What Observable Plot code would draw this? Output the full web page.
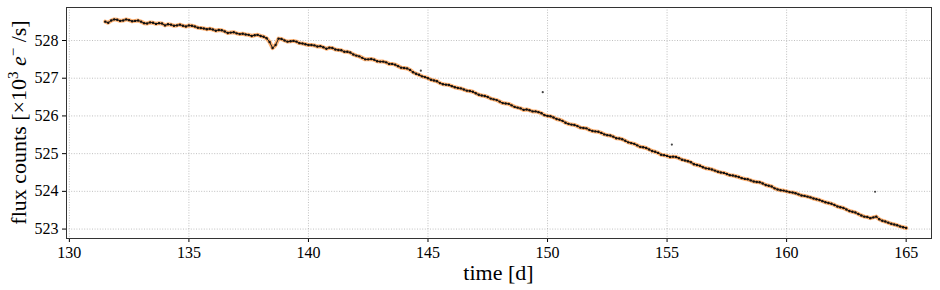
<!DOCTYPE html>
<html><head><meta charset="utf-8">
<script src="https://cdn.jsdelivr.net/npm/d3@7"></script>
<script src="https://cdn.jsdelivr.net/npm/@observablehq/plot@0.6"></script>
<style>body{margin:0;background:#fff;} #chart svg{display:block;}</style>
</head><body><div id="chart"></div>
<script>
const time = [131.5,131.75,132,132.25,132.5,132.75,133,133.25,133.5,133.75,134,134.25,134.5,134.75,135,135.25,135.5,135.75,136,136.25,136.5,136.75,137,137.25,137.5,137.75,138,138.25,138.5,138.75,139,139.25,139.5,139.75,140,140.25,140.5,140.75,141,141.25,141.5,141.75,142,142.25,142.5,142.75,143,143.25,143.5,143.75,144,144.25,144.5,144.75,145,145.25,145.5,145.75,146,146.25,146.5,146.75,147,147.25,147.5,147.75,148,148.25,148.5,148.75,149,149.25,149.5,149.75,150,150.25,150.5,150.75,151,151.25,151.5,151.75,152,152.25,152.5,152.75,153,153.25,153.5,153.75,154,154.25,154.5,154.75,155,155.25,155.5,155.75,156,156.25,156.5,156.75,157,157.25,157.5,157.75,158,158.25,158.5,158.75,159,159.25,159.5,159.75,160,160.25,160.5,160.75,161,161.25,161.5,161.75,162,162.25,162.5,162.75,163,163.25,163.5,163.75,164,164.25,164.5,164.75,165];
const flux = [528.50,528.53,528.55,528.53,528.54,528.52,528.50,528.45,528.47,528.46,528.40,528.42,528.40,528.39,528.40,528.37,528.33,528.30,528.29,528.28,528.24,528.21,528.19,528.18,528.15,528.14,528.12,528.06,527.80,528.05,528.00,527.98,527.97,527.92,527.88,527.87,527.85,527.78,527.80,527.75,527.70,527.68,527.60,527.54,527.50,527.49,527.44,527.42,527.38,527.32,527.27,527.22,527.12,527.05,527.00,526.94,526.87,526.83,526.79,526.74,526.70,526.66,526.60,526.54,526.50,526.44,526.38,526.33,526.28,526.22,526.16,526.15,526.12,526.07,526.00,525.96,525.90,525.82,525.77,525.73,525.68,525.63,525.59,525.55,525.49,525.45,525.40,525.34,525.28,525.22,525.17,525.11,525.05,524.97,524.94,524.92,524.88,524.82,524.77,524.70,524.64,524.60,524.55,524.50,524.46,524.42,524.38,524.33,524.29,524.25,524.21,524.15,524.08,524.03,524.00,523.97,523.92,523.88,523.84,523.79,523.74,523.69,523.64,523.58,523.52,523.46,523.40,523.33,523.29,523.33,523.22,523.17,523.12,523.07,523.03];
const midTime = [131.625,131.875,132.125,132.375,132.625,132.875,133.125,133.375,133.625,133.875,134.125,134.375,134.625,134.875,135.125,135.375,135.625,135.875,136.125,136.375,136.625,136.875,137.125,137.375,137.625,137.875,138.125,138.375,138.625,138.875,139.125,139.375,139.625,139.875,140.125,140.375,140.625,140.875,141.125,141.375,141.625,141.875,142.125,142.375,142.625,142.875,143.125,143.375,143.625,143.875,144.125,144.375,144.625,144.875,145.125,145.375,145.625,145.875,146.125,146.375,146.625,146.875,147.125,147.375,147.625,147.875,148.125,148.375,148.625,148.875,149.125,149.375,149.625,149.875,150.125,150.375,150.625,150.875,151.125,151.375,151.625,151.875,152.125,152.375,152.625,152.875,153.125,153.375,153.625,153.875,154.125,154.375,154.625,154.875,155.125,155.375,155.625,155.875,156.125,156.375,156.625,156.875,157.125,157.375,157.625,157.875,158.125,158.375,158.625,158.875,159.125,159.375,159.625,159.875,160.125,160.375,160.625,160.875,161.125,161.375,161.625,161.875,162.125,162.375,162.625,162.875,163.125,163.375,163.625,163.875,164.125,164.375,164.625,164.875];
const midFlux = [528.47,528.56,528.52,528.56,528.51,528.53,528.46,528.48,528.44,528.45,528.43,528.39,528.42,528.37,528.39,528.34,528.32,528.31,528.26,528.27,528.20,528.22,528.17,528.16,528.12,528.15,528.10,527.96,527.88,528.04,527.97,527.99,527.93,527.90,527.88,527.84,527.82,527.81,527.76,527.74,527.70,527.63,527.58,527.50,527.51,527.45,527.44,527.38,527.36,527.28,527.26,527.16,527.09,527.03,526.96,526.92,526.84,526.82,526.76,526.73,526.67,526.64,526.56,526.53,526.46,526.42,526.34,526.32,526.24,526.20,526.17,526.12,526.10,526.02,525.99,525.92,525.87,525.79,525.76,525.69,525.67,525.60,525.58,525.51,525.48,525.41,525.38,525.30,525.26,525.18,525.15,525.07,525.02,524.96,524.91,524.91,524.84,524.80,524.72,524.68,524.61,524.58,524.52,524.49,524.43,524.40,524.35,524.32,524.26,524.24,524.17,524.13,524.05,524.02,523.98,523.95,523.89,523.86,523.81,523.77,523.71,523.67,523.60,523.56,523.48,523.44,523.36,523.32,523.31,523.26,523.20,523.14,523.10,523.05];
const outlierTime = [144.7, 149.8, 155.2, 163.7];
const outlierFlux = [527.20, 526.63, 525.24, 523.99];
const xTicks = [130,135,140,145,150,155,160,165];
const yTicks = [523,524,525,526,527,528];
const xLabel = "time [d]";

const data = time.map((t,i)=>({t, f: flux[i]}))
  .concat(midTime.map((t,i)=>({t, f: midFlux[i]})))
  .filter(d => d.f !== undefined)
  .sort((a,b)=>a.t-b.t);
const outliers = outlierTime.map((t,i)=>({t, f: outlierFlux[i]}));

const W = 940, H = 290;
const serif = "'Liberation Serif', 'DejaVu Serif', serif";
const plot = Plot.plot({
  width: W, height: H,
  marginLeft: 66, marginRight: 9, marginTop: 7, marginBottom: 52,
  style: {fontFamily: serif, fontSize: "16px", color: "#000", background: "#fff"},
  x: {domain: [129.88, 166.06]},
  y: {domain: [522.75, 528.875]},
  marks: [
    Plot.gridX(xTicks, {stroke: "#b0b0b0", strokeOpacity: 1, strokeWidth: 0.8, strokeDasharray: "1,1.6"}),
    Plot.gridY(yTicks, {stroke: "#b0b0b0", strokeOpacity: 1, strokeWidth: 0.8, strokeDasharray: "1,1.6"}),
    Plot.line(data, {x: "t", y: "f", stroke: "#ff9a45", strokeWidth: 4, strokeOpacity: 0.75}),
    Plot.line(data, {x: "t", y: "f", stroke: "#1a1a1a", strokeWidth: 1}),
    Plot.dot(data, {x: "t", y: "f", r: 1.2, fill: "#111", stroke: "none"}),
    Plot.dot(outliers, {x: "t", y: "f", r: 1.1, fill: "#444", stroke: "none"}),
    Plot.axisX(xTicks, {tickSize: 4, tickPadding: 4, label: null, fontSize: 16, stroke: "#000"}),
    Plot.axisY(yTicks, {tickSize: 4, tickPadding: 4, label: null, fontSize: 16, stroke: "#000", tickFormat: d => String(d)}),
    Plot.frame({stroke: "#333", strokeWidth: 1})
  ]
});
document.getElementById("chart").appendChild(plot);

const svg = d3.select(plot);
svg.append("text")
  .attr("x", (66 + W - 9) / 2).attr("y", 280)
  .attr("text-anchor", "middle")
  .style("font-size", "22px").style("font-family", serif)
  .text(xLabel);

const yl = svg.append("text")
  .attr("transform", `translate(26, ${(7 + H - 52) / 2}) rotate(-90)`)
  .attr("text-anchor", "middle")
  .style("font-size", "22px").style("font-family", serif);
yl.append("tspan").text("flux counts [×10");
yl.append("tspan").attr("dy", -8).style("font-size", "15px").text("3");
yl.append("tspan").attr("dy", 8).style("font-style", "italic").text(" e");
yl.append("tspan").attr("dy", -8).style("font-size", "15px").text("−");
yl.append("tspan").attr("dy", 8).text(" /s]");
</script>
</body></html>
